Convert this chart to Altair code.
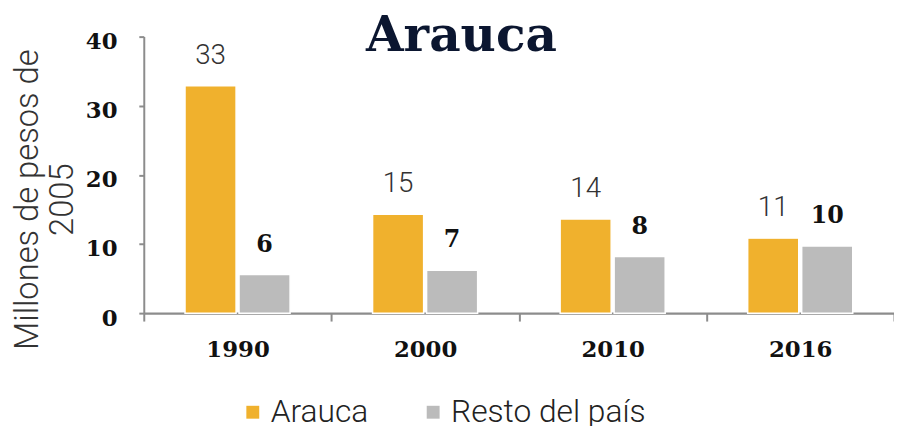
import altair as alt
import pandas as pd

years = ["1990", "2000", "2010", "2016"]
series = ["Arauca", "Resto del país"]
arauca_values = [32.9, 14.3, 13.6, 10.85]
resto_values = [5.6, 6.2, 8.2, 9.7]
arauca_labels = ["33", "15", "14", "11"]
resto_labels = ["6", "7", "8", "10"]
y_ticks = [0, 10, 20, 30, 40]

rows = []
for i, yr in enumerate(years):
    rows.append({"year": yr, "serie": series[0], "value": arauca_values[i], "label": arauca_labels[i]})
    rows.append({"year": yr, "serie": series[1], "value": resto_values[i], "label": resto_labels[i]})
df = pd.DataFrame(rows)

W, H = 757, 279

x_enc = alt.X("year:N", sort=years,
              scale=alt.Scale(paddingInner=0, paddingOuter=0),
              axis=alt.Axis(title=None, labelAngle=0, labelFont="DejaVu Serif", labelFontWeight="bold",
                            labelFontSize=23, labelColor="#111111", labelPadding=18, labelBaseline="top",
                            tickBand="extent", tickSize=8, tickWidth=2, tickColor="#8c8c8c",
                            domainColor="#8c8c8c", domainWidth=2.5))
xo_enc = alt.XOffset("serie:N", sort=series,
                     scale=alt.Scale(paddingInner=0.0545, paddingOuter=0.7636))
y_enc = alt.Y("value:Q", scale=alt.Scale(domain=[0, 40], nice=False),
              axis=alt.Axis(values=y_ticks, grid=False, labelFont="DejaVu Serif", labelFontWeight="bold",
                            labelFontSize=23, labelColor="#111111", labelPadding=22, labelOffset=5,
                            tickSize=5, tickWidth=2, tickColor="#8c8c8c",
                            domainColor="#8c8c8c", domainWidth=2,
                            title=["Millones de pesos de", "2005"], titleFont="Roboto", titleFontWeight=300,
                            titleFontSize=33, titleColor="#333333", titleLineHeight=35,
                            titleAngle=270, titleBaseline="top", titleAlign="center",
                            titleX=-133, titleY=164))

color_enc = alt.Color("serie:N", sort=series,
                      scale=alt.Scale(domain=series, range=["#F0B12D", "#BBBBBB"]),
                      legend=alt.Legend(title=None, orient="none", direction="horizontal",
                                        legendX=94, legendY=363, padding=0,
                                        symbolType="square", symbolSize=169, symbolStrokeWidth=0,
                                        labelFont="Roboto", labelFontWeight=300, labelFontSize=32,
                                        labelColor="#222222", labelOffset=2, columnPadding=49,
                                        labelLimit=400))

base = alt.Chart(df)

bars = base.mark_bar(stroke="white", strokeWidth=1.5).encode(
    x=x_enc, xOffset=xo_enc, y=y_enc, color=color_enc)

text_arauca = base.transform_filter(alt.datum.serie == series[0]).mark_text(
    font="Roboto", fontWeight=300, fontSize=28, color="#333333", baseline="alphabetic", dy=-22
).encode(x=alt.X("year:N", sort=years), xOffset=alt.XOffset("serie:N", sort=series),
         y="value:Q", text="label:N")

text_resto = base.transform_filter(alt.datum.serie == series[1]).mark_text(
    font="DejaVu Serif", fontWeight="bold", fontSize=24, color="#111111", baseline="alphabetic", dy=-23
).encode(x=alt.X("year:N", sort=years), xOffset=alt.XOffset("serie:N", sort=series),
         y="value:Q", text="label:N")

chart = alt.layer(bars, text_arauca, text_resto).properties(
    width=W, height=H,
    title=alt.TitleParams(text="Arauca", font="DejaVu Serif", fontWeight="bold", fontSize=49,
                          color="#0b1630", anchor="middle", frame="group", baseline="alphabetic",
                          offset=-69, dx=-58),
    autosize=alt.AutoSizeParams(type="none"),
    padding={"left": 137, "top": 27, "right": 0, "bottom": 112},
    background="white",
).configure_view(stroke=None)

chart.save("out.html", embed_options={"renderer": "svg", "actions": False})
